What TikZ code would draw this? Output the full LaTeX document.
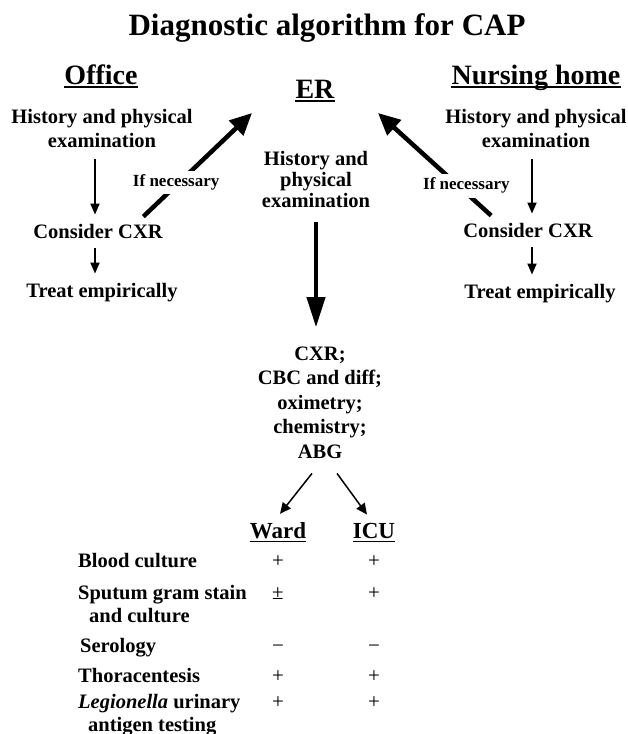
\documentclass[tikz,border=0pt]{standalone}
\usepackage{fontspec}
\setmainfont{Liberation Serif}
\usetikzlibrary{arrows.meta}

\tikzset{
  lbl/.style={font=\bfseries\fontsize{20.5}{24}\selectfont, align=center, anchor=base, inner sep=0pt},
  hdr/.style={font=\bfseries\fontsize{28}{32}\selectfont, anchor=base, inner sep=0pt},
  row/.style={font=\bfseries\fontsize{20.5}{23}\selectfont, align=left, anchor=base west, inner sep=0pt},
  sgn/.style={font=\fontsize{21}{24}\selectfont, anchor=base, inner sep=0pt},
  ifnec/.style={font=\bfseries\fontsize{17}{20}\selectfont, fill=white, inner sep=4pt},
  thinarr/.style={line width=1.8pt, -{Triangle[length=11pt,width=9pt]}},
  fatarr/.style={line width=4.5pt, -{Triangle[length=22pt,width=20pt]}},
  bigarr/.style={line width=4pt, -{Triangle[length=30pt,width=18pt]}},
  brarr/.style={line width=1.5pt, -{Triangle[length=11pt,width=10pt]}},
  ulin/.style={line width=1.8pt}
}

\begin{document}
\begin{tikzpicture}[x=1pt, y=-1pt]
  \useasboundingbox (0,0) rectangle (628,734);

  % Titel
  \node[font=\bfseries\fontsize{31}{36}\selectfont, anchor=base, inner sep=0pt] (title) at (327,35) {Diagnostic algorithm for CAP};

  % drei Orte + Unterstreichung
  \node[hdr] (office) at (101,84) {Office};
  \node[hdr] (er) at (315,98) {ER};
  \node[hdr] (nhome) at (536,84) {Nursing home};
  \foreach \n in {office, er, nhome}
    \draw[ulin] ([yshift=-2.7pt]\n.base west) -- ([yshift=-2.7pt]\n.base east);

  % Office Spalte (base = letzte Zeile)
  \node[lbl] (ohist) at (102,147) {History and physical\\examination};
  \node[lbl] (ocxr) at (98,238) {Consider CXR};
  \node[lbl] (otreat) at (102,297) {Treat empirically};
  \draw[thinarr, shorten <=12pt, shorten >=9pt] ([xshift=-7pt]ohist.south) -- ([xshift=-7pt]ohist.south |- ocxr.north);
  \draw[thinarr, shorten <=10pt, shorten >=9pt] ([xshift=-3pt]ocxr.south) -- ([xshift=-3pt]ocxr.south |- otreat.north);

  % Nursing home Spalte
  \node[lbl] (nhist) at (536,147) {History and physical\\examination};
  \node[lbl] (ncxr) at (528,237) {Consider CXR};
  \node[lbl] (ntreat) at (540,298) {Treat empirically};
  \draw[thinarr, shorten <=12pt, shorten >=9pt] ([xshift=-4pt]nhist.south) -- ([xshift=-4pt]nhist.south |- ncxr.north);
  \draw[thinarr, shorten <=10pt, shorten >=9pt] ([xshift=4pt]ncxr.south) -- ([xshift=4pt]ncxr.south |- ntreat.north);

  % If necessary -> ER
  \coordinate (ltip) at (252,113);
  \coordinate (rtip) at (378,113);
  \draw[fatarr] ([shift={(-19.5,-7)}]ocxr.north east) -- node[ifnec, pos=0.33, xshift=-3pt] (oif) {If necessary} (ltip);
  \draw[fatarr] ([shift={(28,-7)}]ncxr.north west) -- node[ifnec, pos=0.29, xshift=8pt] (nif) {If necessary} (rtip);

  % ER Spalte
  \node[lbl, font=\bfseries\fontsize{20.5}{21}\selectfont] (erhist) at (316,207) {History and\\physical\\examination};
  \node[lbl, font=\bfseries\fontsize{20.5}{24.5}\selectfont] (tests) at (320,458) {CXR;\\CBC and diff;\\oximetry;\\chemistry;\\ABG};
  \draw[bigarr, shorten <=15pt, shorten >=19pt] (erhist.south) -- (erhist.south |- tests.north);

  % Ward / ICU
  \node[font=\bfseries\fontsize{23}{26}\selectfont, anchor=base, inner sep=0pt] (ward) at (278,538) {Ward};
  \node[font=\bfseries\fontsize{23}{26}\selectfont, anchor=base, inner sep=0pt] (icu) at (374,538) {ICU};
  \foreach \n in {ward, icu}
    \draw[ulin] ([yshift=-3.5pt]\n.base west) -- ([yshift=-3.5pt]\n.base east);
  \draw[brarr] ([shift={(-8,15)}]tests.south) -- ([shift={(2,-8)}]ward.north);
  \draw[brarr] ([shift={(17,15)}]tests.south) -- ([shift={(-7,-8)}]icu.north);

  % Tabelle
  \node[row] (r1) at (78,567) {Blood culture};
  \node[row] (r2) at (78,622) {Sputum gram stain\\\hspace*{11pt}and culture};
  \node[row] (r3) at (80,652) {Serology};
  \node[row] (r4) at (78,682) {Thoracentesis};
  \node[row] (r5) at (78,731) {\textit{Legionella} urinary\\\hspace*{10pt}antigen testing};
  \foreach \r/\w/\i in {r1/+/+, r3/−/−, r4/+/+} {
    \node[sgn] (w\r) at (\r.base -| ward) {\w};
    \node[sgn] (i\r) at (\r.base -| icu) {\i};
  }
  % zweizeilige Zeilen: Zeichen auf erster Zeile
  \node[sgn] (wr2) at ([yshift=23pt]r2.base -| ward) {±};
  \node[sgn] (ir2) at ([yshift=23pt]r2.base -| icu) {+};
  \node[sgn] (wr5) at ([yshift=23pt]r5.base -| ward) {+};
  \node[sgn] (ir5) at ([yshift=23pt]r5.base -| icu) {+};
\end{tikzpicture}
\end{document}
